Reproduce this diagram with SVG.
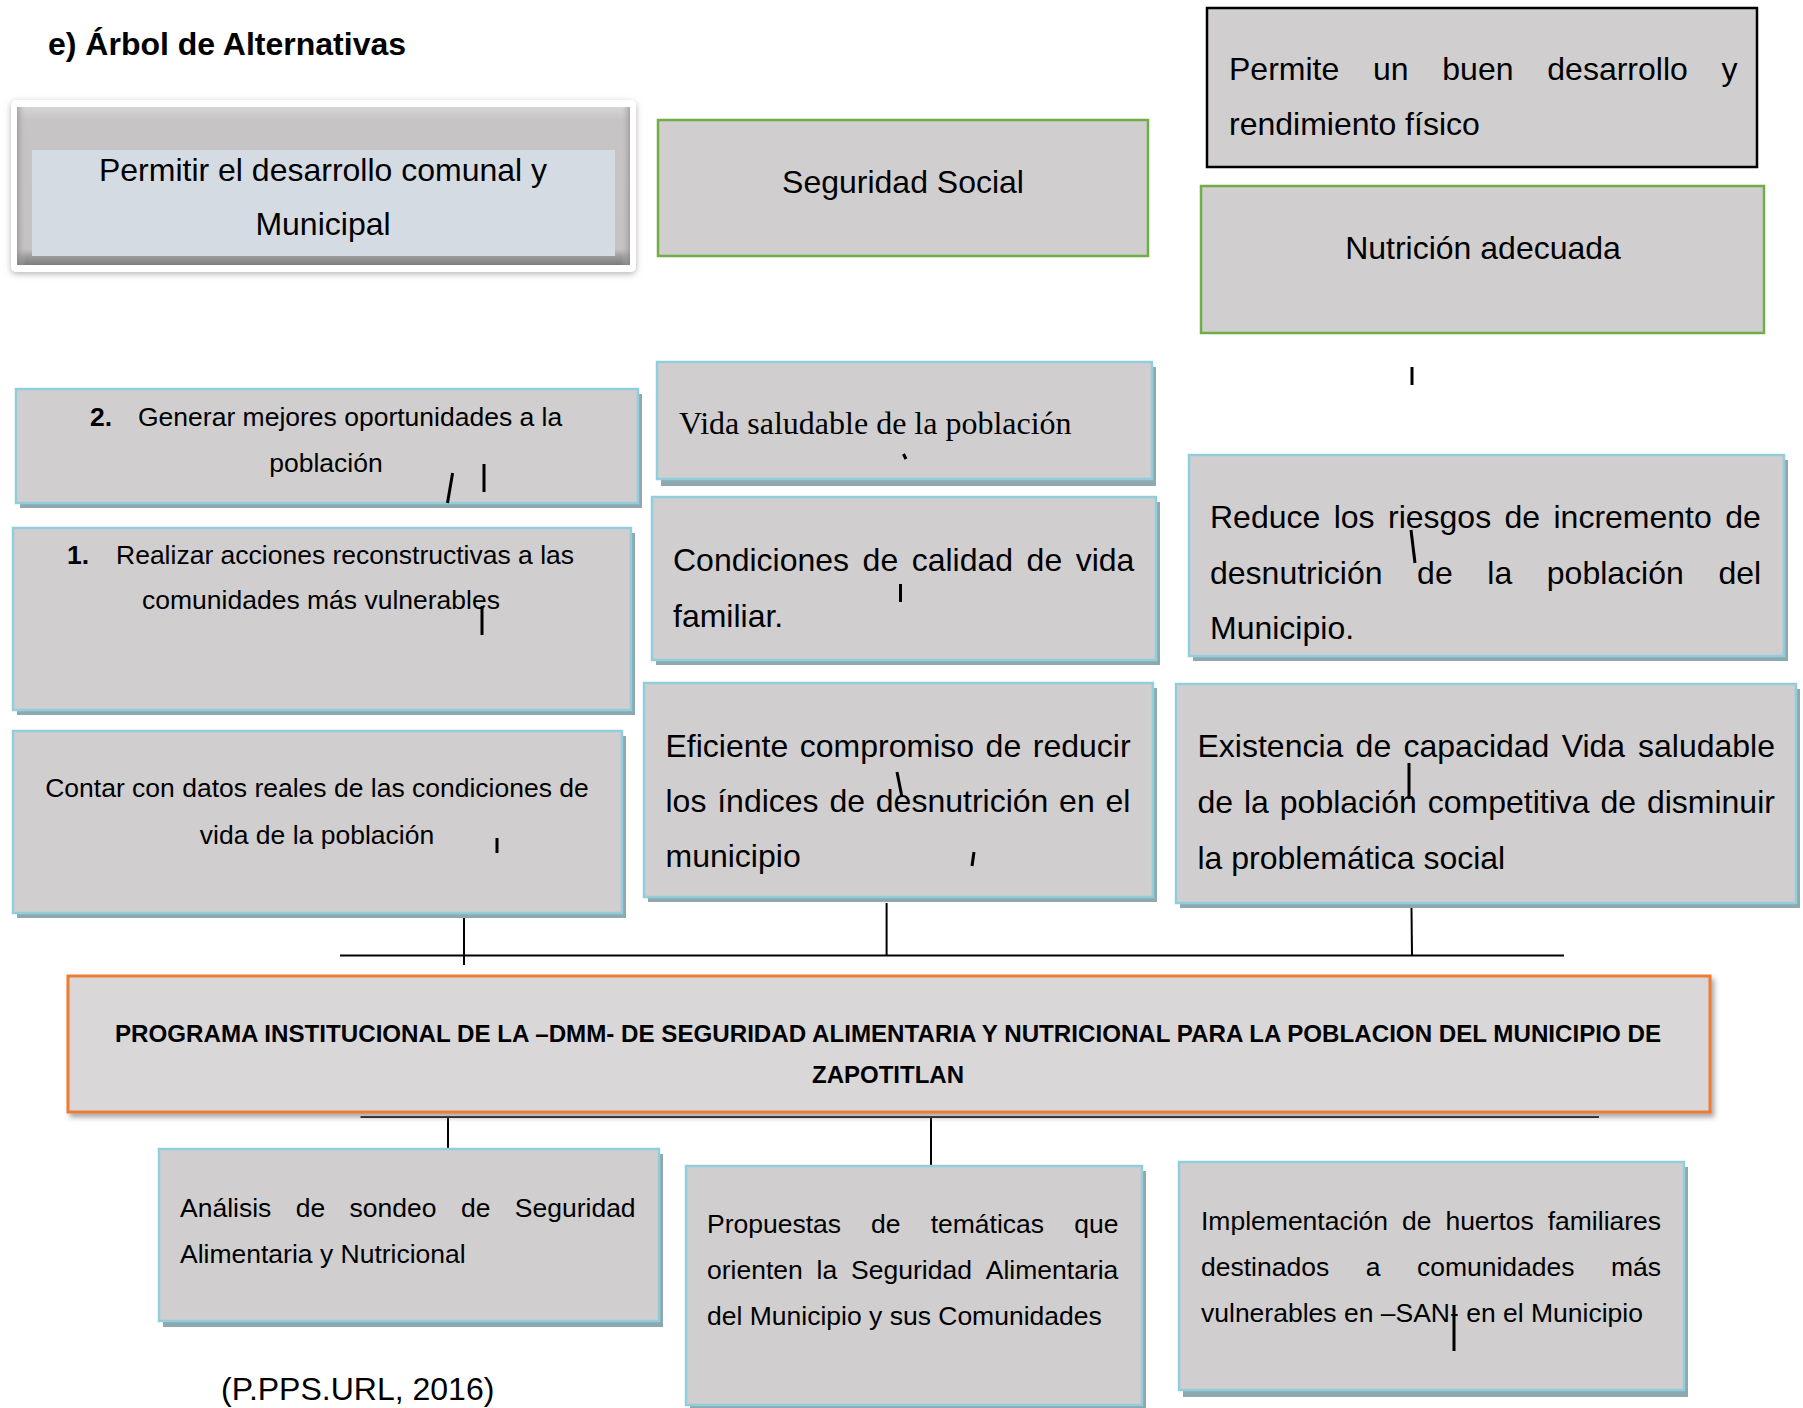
<svg xmlns="http://www.w3.org/2000/svg" width="1803" height="1408" viewBox="0 0 1803 1408">
<style>
.t{font-family:"Liberation Sans",Arial,sans-serif;font-size:32px;fill:#000}
.s{font-family:"Liberation Sans",Arial,sans-serif;font-size:26.5px;fill:#000}
.sb{font-weight:bold}
.serif{font-family:"Liberation Serif","Times New Roman",serif;font-size:32px;fill:#000}
.box{fill:#d0cecf;stroke:#92cddc;stroke-width:2.5}
.sh{fill:#8ea8b0}
.green{fill:#d0cecf;stroke:#70ad47;stroke-width:2.5}
.ln{stroke:#000;stroke-width:2;fill:none}
.tk{stroke:#000;stroke-width:3;fill:none}
.c{text-anchor:middle}
</style>
<defs>
<filter id="glow" x="-5%" y="-20%" width="110%" height="140%">
<feDropShadow dx="0" dy="2" stdDeviation="3" flood-color="#777" flood-opacity="0.55"/>
</filter>
<filter id="msh" x="-2%" y="-10%" width="104%" height="125%">
<feDropShadow dx="3" dy="4" stdDeviation="2.5" flood-color="#888" flood-opacity="0.7"/>
</filter>
<linearGradient id="bev" x1="0" y1="0" x2="0" y2="1">
<stop offset="0" stop-color="#d6d4d4"/>
<stop offset="0.08" stop-color="#c6c4c4"/>
<stop offset="0.9" stop-color="#c4c2c2"/>
<stop offset="0.95" stop-color="#9a9898"/>
<stop offset="1" stop-color="#7e7c7c"/>
</linearGradient>
<linearGradient id="bevx" x1="0" y1="0" x2="1" y2="0">
<stop offset="0" stop-color="#8a8888" stop-opacity="0.6"/>
<stop offset="0.015" stop-color="#c6c4c4" stop-opacity="0"/>
<stop offset="0.985" stop-color="#c6c4c4" stop-opacity="0"/>
<stop offset="1" stop-color="#8a8888" stop-opacity="0.6"/>
</linearGradient>
</defs>
<rect width="1803" height="1408" fill="#fff"/>

<text id="title" class="t sb" x="48" y="55">e) Árbol de Alternativas</text>

<g id="connectors">
<line class="ln" x1="464" y1="914" x2="464" y2="965"/>
<line class="ln" x1="886.6" y1="903" x2="886.6" y2="955"/>
<line class="ln" x1="1411.4" y1="899" x2="1412" y2="955"/>
<line class="ln" x1="340" y1="955.5" x2="1564" y2="955.5" stroke-width="2.5"/>
<line class="ln" x1="360.5" y1="1117" x2="1599" y2="1117" stroke-width="3"/>
<line class="ln" x1="448" y1="1117" x2="448" y2="1149"/>
<line class="ln" x1="931" y1="1117" x2="931" y2="1166"/>
</g>

<g id="nA">
<rect x="11" y="100" width="625" height="172" rx="5" fill="#fff" filter="url(#glow)"/>
<rect x="17" y="107" width="613" height="158" fill="url(#bev)"/>
<rect x="17" y="107" width="613" height="158" fill="url(#bevx)"/>
<rect x="32" y="150" width="583" height="106" fill="#d5dbe3"/>
<text class="t c" x="323" y="181">Permitir el desarrollo comunal y</text>
<text class="t c" x="323" y="235">Municipal</text>
</g>

<g id="nB">
<rect class="green" x="658" y="120" width="490" height="136"/>
<text class="t c" x="903" y="193">Seguridad Social</text>
</g>

<g id="nC">
<rect x="1207" y="8" width="550" height="159" fill="#d0cecf" stroke="#000" stroke-width="2.5"/>
<text class="t" y="80"><tspan x="1229">Permite</tspan><tspan x="1373">un</tspan><tspan x="1442.3">buen</tspan><tspan x="1547.3">desarrollo</tspan><tspan x="1721.5">y</tspan></text>
<text class="t" x="1229" y="135">rendimiento físico</text>
</g>

<g id="nD">
<rect class="green" x="1201" y="186" width="563" height="147"/>
<text class="t c" x="1483" y="259">Nutrición adecuada</text>
</g>

<g id="nE">
<rect class="sh" x="20" y="394" width="622" height="114"/>
<rect class="box" x="16" y="389" width="622" height="114"/>
<text class="s sb" x="90" y="426">2.</text>
<text class="s" x="138" y="426">Generar mejores oportunidades a la</text>
<text class="s c" x="326" y="472">población</text>
</g>

<g id="nF">
<rect class="sh" x="17" y="533" width="618" height="182"/>
<rect class="box" x="13" y="528" width="618" height="182"/>
<text class="s sb" x="67" y="564">1.</text>
<text class="s" x="116" y="564">Realizar acciones reconstructivas a las</text>
<text class="s" x="142" y="609">comunidades más vulnerables</text>
</g>

<g id="nG">
<rect class="sh" x="17" y="736" width="609" height="182"/>
<rect class="box" x="13" y="731" width="609" height="182"/>
<text class="s c" x="317" y="797">Contar con datos reales de las condiciones de</text>
<text class="s c" x="317" y="844">vida de la población</text>
</g>

<g id="nH">
<rect class="sh" x="661" y="367" width="495" height="119"/>
<rect class="box" x="657" y="362" width="495" height="117"/>
<text class="serif" x="679" y="434">Vida saludable de la población</text>
</g>

<g id="nI">
<rect class="sh" x="656" y="502" width="504" height="163"/>
<rect class="box" x="652" y="497" width="504" height="163"/>
<text class="t" y="571"><tspan x="673">Condiciones</tspan><tspan x="862.6">de</tspan><tspan x="911.7">calidad</tspan><tspan x="1026.6">de</tspan><tspan x="1075.7">vida</tspan></text>
<text class="t" x="673" y="627">familiar.</text>
</g>

<g id="nJ">
<rect class="sh" x="1193" y="460" width="595" height="201"/>
<rect class="box" x="1189" y="455" width="595" height="201"/>
<text class="t" y="528"><tspan x="1210">Reduce</tspan><tspan x="1333.7">los</tspan><tspan x="1388">riesgos</tspan><tspan x="1504.5">de</tspan><tspan x="1553.5">incremento</tspan><tspan x="1725.3">de</tspan></text>
<text class="t" y="584"><tspan x="1210">desnutrición</tspan><tspan x="1417.1">de</tspan><tspan x="1487.3">la</tspan><tspan x="1546.8">población</tspan><tspan x="1718.4">del</tspan></text>
<text class="t" x="1210" y="639">Municipio.</text>
</g>

<g id="nK">
<rect class="sh" x="1180" y="689" width="620" height="219"/>
<rect class="box" x="1176" y="684" width="620" height="219"/>
<text class="t" y="757"><tspan x="1197.5">Existencia</tspan><tspan x="1355.6">de</tspan><tspan x="1403.5">capacidad</tspan><tspan x="1561.7">Vida</tspan><tspan x="1638">saludable</tspan></text>
<text class="t" y="813"><tspan x="1197.5">de</tspan><tspan x="1244">la</tspan><tspan x="1279.8">población</tspan><tspan x="1427.7">competitiva</tspan><tspan x="1600.4">de</tspan><tspan x="1646.9">disminuir</tspan></text>
<text class="t" x="1197.5" y="869">la problemática social</text>
</g>

<g id="nL">
<rect class="sh" x="648" y="688" width="509" height="214"/>
<rect class="box" x="644" y="683" width="509" height="214"/>
<text class="t" y="757"><tspan x="665.5">Eficiente</tspan><tspan x="799.8">compromiso</tspan><tspan x="985.6">de</tspan><tspan x="1032.8">reducir</tspan></text>
<text class="t" y="812"><tspan x="665.5">los</tspan><tspan x="717.2">índices</tspan><tspan x="829.4">de</tspan><tspan x="875.8">desnutrición</tspan><tspan x="1059.1">en</tspan><tspan x="1105.5">el</tspan></text>
<text class="t" x="665.5" y="867">municipio</text>
</g>

<g id="nM">
<rect x="68" y="976" width="1642" height="136" fill="#d9d7d8" stroke="#ed7d31" stroke-width="3" filter="url(#msh)"/>
<text class="t sb c" style="font-size:24px" x="888" y="1042" textLength="1546" lengthAdjust="spacingAndGlyphs">PROGRAMA INSTITUCIONAL DE LA –DMM- DE SEGURIDAD ALIMENTARIA Y NUTRICIONAL PARA LA POBLACION DEL MUNICIPIO DE</text>
<text class="t sb c" style="font-size:24px" x="888" y="1083">ZAPOTITLAN</text>
</g>

<g id="nN">
<rect class="sh" x="163" y="1154" width="500" height="173"/>
<rect class="box" x="159" y="1149" width="500" height="172"/>
<text class="s" y="1217"><tspan x="180">Análisis</tspan><tspan x="295.7">de</tspan><tspan x="349.6">sondeo</tspan><tspan x="460.9">de</tspan><tspan x="514.8">Seguridad</tspan></text>
<text class="s" x="180" y="1263">Alimentaria y Nutricional</text>
</g>

<g id="nO">
<rect class="sh" x="690" y="1171" width="456" height="239"/>
<rect class="box" x="686" y="1166" width="456" height="239"/>
<text class="s" y="1233"><tspan x="707">Propuestas</tspan><tspan x="871.1">de</tspan><tspan x="930.7">temáticas</tspan><tspan x="1074.2">que</tspan></text>
<text class="s" y="1279"><tspan x="707">orienten</tspan><tspan x="816.6">la</tspan><tspan x="851.1">Seguridad</tspan><tspan x="985.8">Alimentaria</tspan></text>
<text class="s" x="707" y="1325">del Municipio y sus Comunidades</text>
</g>

<g id="nP">
<rect class="sh" x="1183" y="1167" width="505" height="230"/>
<rect class="box" x="1179" y="1162" width="505" height="228"/>
<text class="s" y="1230"><tspan x="1201">Implementación</tspan><tspan x="1402">de</tspan><tspan x="1445.4">huertos</tspan><tspan x="1547.7">familiares</tspan></text>
<text class="s" y="1276"><tspan x="1201">destinados</tspan><tspan x="1365.7">a</tspan><tspan x="1416.9">comunidades</tspan><tspan x="1611">más</tspan></text>
<text class="s" x="1201" y="1322">vulnerables en –SAN- en el Municipio</text>
</g>

<g id="ticks">
<line class="tk" x1="1412" y1="367" x2="1412" y2="385"/>
<line class="tk" x1="452.6" y1="473" x2="447.5" y2="503" stroke-width="2.5"/>
<line class="tk" x1="484" y1="464" x2="484" y2="492"/>
<line class="tk" x1="482" y1="606" x2="482" y2="635"/>
<line class="tk" x1="497" y1="838" x2="497" y2="853"/>
<line class="tk" x1="903.5" y1="454" x2="906" y2="459" stroke-width="2.5"/>
<line class="tk" x1="900.5" y1="584" x2="900.5" y2="602"/>
<line class="tk" x1="1411" y1="530" x2="1415" y2="563" stroke-width="2.5"/>
<line class="tk" x1="1409" y1="763" x2="1409" y2="799" stroke-width="2.5"/>
<line class="tk" x1="897" y1="772" x2="902" y2="797" stroke-width="2.5"/>
<line class="tk" x1="974" y1="852" x2="972" y2="866" stroke-width="2.5"/>
<line class="tk" x1="1454" y1="1305" x2="1454" y2="1351" stroke-width="2.5"/>
</g>

<text id="cite" class="t" x="221" y="1400">(P.PPS.URL, 2016)</text>
</svg>
